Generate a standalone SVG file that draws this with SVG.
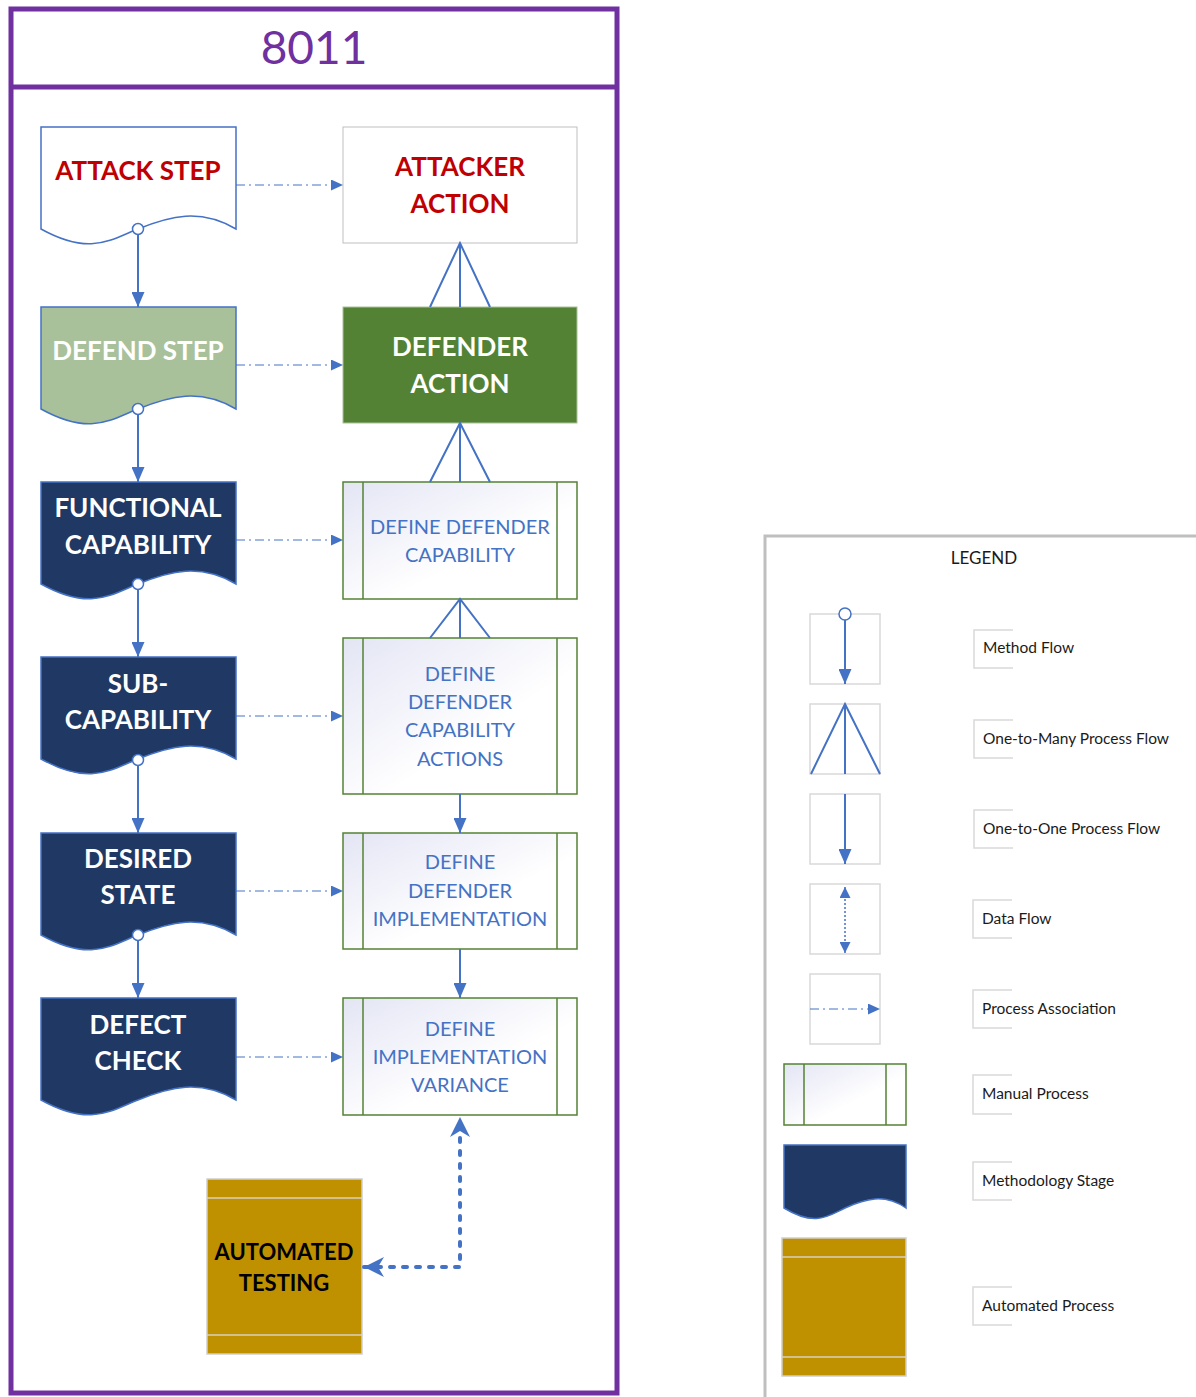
<svg xmlns="http://www.w3.org/2000/svg" width="1196" height="1397" viewBox="0 0 1196 1397">
<style>
.hd{font-family:Lato,"Open Sans","Liberation Sans",sans-serif;font-weight:700;font-size:26px;text-anchor:middle}
.red{fill:#C00000}
.wh{fill:#FFFFFF}
.mp{font-family:Lato,"Open Sans","Liberation Sans",sans-serif;font-size:20px;fill:#4472C4;text-anchor:middle}
.lg{font-family:Lato,"Open Sans","Liberation Sans",sans-serif;font-size:15.5px;fill:#1A1A1A}
.doc{stroke:#4472C4;stroke-width:1.5}
.man{fill:url(#mg);stroke:#548235;stroke-width:1.5}
.manl{stroke:#548235;stroke-width:1.5}
.flow{fill:none;stroke:#4472C4;stroke-width:2}
.assoc{fill:none;stroke:#4472C4;stroke-width:1;stroke-dasharray:9 4 2 4}
.dot{fill:#FFFFFF;stroke:#4472C4;stroke-width:1.5}
.ico{fill:#FFFFFF;stroke:#D9D9D9;stroke-width:1.5}
.brk{fill:none;stroke:#D9D9D9;stroke-width:1.5}
</style>
<defs>
<linearGradient id="mg" x1="0" y1="0" x2="1" y2="1">
<stop offset="0" stop-color="#E3E5F4"/>
<stop offset="0.6" stop-color="#FFFFFF"/>
<stop offset="1" stop-color="#FFFFFF"/>
</linearGradient>
<marker id="ah" viewBox="0 0 15 13" refX="15" refY="6.5" markerWidth="15" markerHeight="13" orient="auto" markerUnits="userSpaceOnUse"><path d="M0,0 L15,6.5 L0,13 z" fill="#4472C4"/></marker>
<marker id="ahs" viewBox="0 0 12 11" refX="12" refY="5.5" markerWidth="12" markerHeight="11" orient="auto" markerUnits="userSpaceOnUse"><path d="M0,0 L12,5.5 L0,11 z" fill="#4472C4"/></marker>
<marker id="ahd" viewBox="0 0 20 20" refX="20" refY="10" markerWidth="20" markerHeight="20" orient="auto-start-reverse" markerUnits="userSpaceOnUse"><path d="M0,0 L20,10 L0,20 L6,10 z" fill="#4472C4"/></marker>
<marker id="ahl" viewBox="0 0 12 12" refX="12" refY="6" markerWidth="12" markerHeight="11" orient="auto-start-reverse" markerUnits="userSpaceOnUse"><path d="M0,0 L12,6 L0,12 z" fill="#4472C4"/></marker>
</defs>
<rect width="1196" height="1397" fill="#FFFFFF"/>

<g id="frame">
<rect x="11" y="9" width="606" height="1384" fill="none" stroke="#7030A0" stroke-width="5"/>
<line x1="11" y1="87" x2="617" y2="87" stroke="#7030A0" stroke-width="5"/>
<text x="314" y="64" font-family="Lato,'Open Sans','Liberation Sans',sans-serif" font-size="46" fill="#7030A0" text-anchor="middle">8011</text>
</g>

<g id="attack-step">
<path class="doc" fill="#FFFFFF" d="M41,127 H236 V229 C200,208 170,216 138,229 C110,240 90,256 41,229 Z"/>
<text class="hd red" x="138" y="180">ATTACK STEP</text>
</g>
<g id="attacker-action">
<rect x="343" y="127" width="234" height="116" fill="#FFFFFF" stroke="#BFBFBF" stroke-width="1"/>
<text class="hd red" x="460" y="176">ATTACKER</text>
<text class="hd red" x="460" y="213">ACTION</text>
</g>

<g id="defend-step">
<path class="doc" fill="#A9C19A" d="M41,307 H236 V409 C200,388 170,396 138,409 C110,420 90,436 41,409 Z"/>
<text class="hd wh" x="138" y="360">DEFEND STEP</text>
</g>
<g id="defender-action">
<rect x="343" y="307" width="234" height="116" fill="#548235" stroke="#A9C19A" stroke-width="1"/>
<text class="hd wh" x="460" y="356">DEFENDER</text>
<text class="hd wh" x="460" y="393">ACTION</text>
</g>

<g id="functional-capability">
<path class="doc" fill="#203864" d="M41,482 H236 V584 C200,563 170,571 138,584 C110,595 90,611 41,584 Z"/>
<text class="hd wh" x="138" y="517">FUNCTIONAL</text>
<text class="hd wh" x="138" y="554">CAPABILITY</text>
</g>
<g id="define-defender-capability">
<rect class="man" x="343" y="482" width="234" height="117"/>
<line class="manl" x1="363" y1="482" x2="363" y2="599"/>
<line class="manl" x1="557" y1="482" x2="557" y2="599"/>
<text class="mp" x="460" y="534">DEFINE DEFENDER</text>
<text class="mp" x="460" y="562">CAPABILITY</text>
</g>

<g id="sub-capability">
<path class="doc" fill="#203864" d="M41,657 H236 V759 C200,738 170,746 138,759 C110,770 90,786 41,759 Z"/>
<text class="hd wh" x="138" y="693">SUB-</text>
<text class="hd wh" x="138" y="729">CAPABILITY</text>
</g>
<g id="define-defender-capability-actions">
<rect class="man" x="343" y="638" width="234" height="156"/>
<line class="manl" x1="363" y1="638" x2="363" y2="794"/>
<line class="manl" x1="557" y1="638" x2="557" y2="794"/>
<text class="mp" x="460" y="681">DEFINE</text>
<text class="mp" x="460" y="709">DEFENDER</text>
<text class="mp" x="460" y="737">CAPABILITY</text>
<text class="mp" x="460" y="766">ACTIONS</text>
</g>

<g id="desired-state">
<path class="doc" fill="#203864" d="M41,833 H236 V935 C200,914 170,922 138,935 C110,946 90,962 41,935 Z"/>
<text class="hd wh" x="138" y="868">DESIRED</text>
<text class="hd wh" x="138" y="904">STATE</text>
</g>
<g id="define-defender-implementation">
<rect class="man" x="343" y="833" width="234" height="116"/>
<line class="manl" x1="363" y1="833" x2="363" y2="949"/>
<line class="manl" x1="557" y1="833" x2="557" y2="949"/>
<text class="mp" x="460" y="869">DEFINE</text>
<text class="mp" x="460" y="898">DEFENDER</text>
<text class="mp" x="460" y="926">IMPLEMENTATION</text>
</g>

<g id="defect-check">
<path class="doc" fill="#203864" d="M41,998 H236 V1100 C200,1079 170,1087 138,1100 C110,1111 90,1127 41,1100 Z"/>
<text class="hd wh" x="138" y="1034">DEFECT</text>
<text class="hd wh" x="138" y="1070">CHECK</text>
</g>
<g id="define-implementation-variance">
<rect class="man" x="343" y="998" width="234" height="117"/>
<line class="manl" x1="363" y1="998" x2="363" y2="1115"/>
<line class="manl" x1="557" y1="998" x2="557" y2="1115"/>
<text class="mp" x="460" y="1036">DEFINE</text>
<text class="mp" x="460" y="1064">IMPLEMENTATION</text>
<text class="mp" x="460" y="1092">VARIANCE</text>
</g>

<g id="automated-testing">
<rect x="207" y="1179" width="155" height="175" fill="#BF9000" stroke="#D0CECE" stroke-width="1.5"/>
<line x1="207" y1="1198" x2="362" y2="1198" stroke="#D9D2C0" stroke-width="1.5"/>
<line x1="207" y1="1335" x2="362" y2="1335" stroke="#D9D2C0" stroke-width="1.5"/>
<text x="284" y="1260" font-family="Lato,'Open Sans','Liberation Sans',sans-serif" font-weight="700" font-size="22" fill="#000000" text-anchor="middle">AUTOMATED</text>
<text x="284" y="1291" font-family="Lato,'Open Sans','Liberation Sans',sans-serif" font-weight="700" font-size="22" fill="#000000" text-anchor="middle">TESTING</text>
</g>

<g id="connectors">
<line class="assoc" x1="236" y1="185" x2="343" y2="185" marker-end="url(#ahs)"/>
<line class="assoc" x1="236" y1="365" x2="343" y2="365" marker-end="url(#ahs)"/>
<line class="assoc" x1="236" y1="540" x2="343" y2="540" marker-end="url(#ahs)"/>
<line class="assoc" x1="236" y1="716" x2="343" y2="716" marker-end="url(#ahs)"/>
<line class="assoc" x1="236" y1="891" x2="343" y2="891" marker-end="url(#ahs)"/>
<line class="assoc" x1="236" y1="1057" x2="343" y2="1057" marker-end="url(#ahs)"/>
<line class="flow" x1="138" y1="234" x2="138" y2="307" marker-end="url(#ah)"/>
<circle class="dot" cx="138" cy="229" r="5.5"/>
<line class="flow" x1="138" y1="414" x2="138" y2="482" marker-end="url(#ah)"/>
<circle class="dot" cx="138" cy="409" r="5.5"/>
<line class="flow" x1="138" y1="589" x2="138" y2="657" marker-end="url(#ah)"/>
<circle class="dot" cx="138" cy="584" r="5.5"/>
<line class="flow" x1="138" y1="765" x2="138" y2="833" marker-end="url(#ah)"/>
<circle class="dot" cx="138" cy="760" r="5.5"/>
<line class="flow" x1="138" y1="940" x2="138" y2="998" marker-end="url(#ah)"/>
<circle class="dot" cx="138" cy="935" r="5.5"/>
<path class="flow" d="M430,307 L460,243 L490,307 M460,243 V307"/>
<path class="flow" d="M430,482 L460,423 L490,482 M460,423 V482"/>
<path class="flow" d="M430,638 L460,599 L490,638 M460,599 V638"/>
<line class="flow" x1="460" y1="794" x2="460" y2="833" marker-end="url(#ah)"/>
<line class="flow" x1="460" y1="949" x2="460" y2="998" marker-end="url(#ah)"/>
<path d="M364,1267 H460 V1117" fill="none" stroke="#4472C4" stroke-width="4" stroke-dasharray="4 9" stroke-linecap="round" stroke-linejoin="round" marker-start="url(#ahd)" marker-end="url(#ahd)"/>
</g>

<g id="legend">
<path d="M765,1397 V536 H1196" fill="none" stroke="#BFBFBF" stroke-width="3"/>
<text x="984" y="564" font-family="Lato,'Open Sans','Liberation Sans',sans-serif" font-size="17" fill="#1A1A1A" text-anchor="middle">LEGEND</text>

<rect class="ico" x="810" y="614" width="70" height="70"/>
<line class="flow" x1="845" y1="620" x2="845" y2="684" marker-end="url(#ah)"/>
<circle class="dot" cx="845" cy="614" r="6" stroke-width="2"/>
<path class="brk" d="M1013,630 H974 V668 H1013"/>
<text class="lg" x="983" y="653">Method Flow</text>

<rect class="ico" x="810" y="704" width="70" height="70"/>
<path class="flow" d="M811,774 L845,704 L880,774 M845,704 V774"/>
<path class="brk" d="M1013,720 H974 V758 H1013"/>
<text class="lg" x="983" y="744">One-to-Many Process Flow</text>

<rect class="ico" x="810" y="794" width="70" height="70"/>
<line class="flow" x1="845" y1="794" x2="845" y2="864" marker-end="url(#ah)"/>
<path class="brk" d="M1013,810 H974 V848 H1013"/>
<text class="lg" x="983" y="834">One-to-One Process Flow</text>

<rect class="ico" x="810" y="884" width="70" height="70"/>
<line x1="845" y1="887" x2="845" y2="953" fill="none" stroke="#4472C4" stroke-width="1.5" stroke-dasharray="2 2" marker-start="url(#ahl)" marker-end="url(#ahl)"/>
<path class="brk" d="M1012,900 H973 V938 H1012"/>
<text class="lg" x="982" y="924">Data Flow</text>

<rect class="ico" x="810" y="974" width="70" height="70"/>
<line class="assoc" x1="810" y1="1009" x2="880" y2="1009" marker-end="url(#ahs)"/>
<path class="brk" d="M1012,990 H973 V1028 H1012"/>
<text class="lg" x="982" y="1014">Process Association</text>

<rect class="man" x="784" y="1064" width="122" height="61"/>
<line class="manl" x1="804" y1="1064" x2="804" y2="1125"/>
<line class="manl" x1="886" y1="1064" x2="886" y2="1125"/>
<path class="brk" d="M1012,1075 H973 V1114 H1012"/>
<text class="lg" x="982" y="1099">Manual Process</text>

<path class="doc" fill="#203864" d="M784,1145 H906 V1208 C884,1193 865,1199 845,1208 C828,1216 815,1227 784,1208 Z"/>
<path class="brk" d="M1012,1162 H973 V1200 H1012"/>
<text class="lg" x="982" y="1186">Methodology Stage</text>

<rect x="782" y="1238" width="124" height="138" fill="#BF9000" stroke="#D0CECE" stroke-width="1.5"/>
<line x1="782" y1="1257" x2="906" y2="1257" stroke="#D9D2C0" stroke-width="1.5"/>
<line x1="782" y1="1357" x2="906" y2="1357" stroke="#D9D2C0" stroke-width="1.5"/>
<path class="brk" d="M1012,1287 H973 V1325 H1012"/>
<text class="lg" x="982" y="1311">Automated Process</text>
</g>
</svg>
